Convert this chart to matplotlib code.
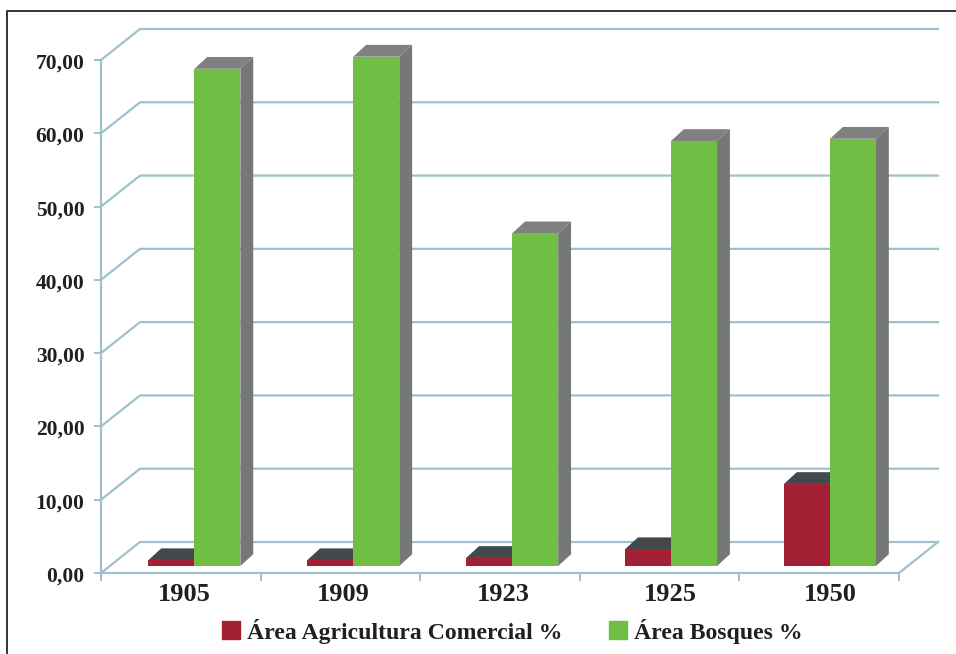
import matplotlib
matplotlib.use("Agg")
import matplotlib.pyplot as plt
from matplotlib.lines import Line2D
from matplotlib.patches import Patch

years = ["1905", "1909", "1923", "1925", "1950"]
agricultura = [0.8, 0.8, 1.1, 2.3, 11.2]
bosques = [67.85, 69.5, 45.4, 58.0, 58.3]
y_ticks = [0, 10, 20, 30, 40, 50, 60, 70]
y_labels = ["0,00", "10,00", "20,00", "30,00", "40,00", "50,00", "60,00", "70,00"]

W, H = 956, 654
GRID = "#9fc0cd"
RED = "#a32035"
GREEN = "#70bf44"
SERIF = "Liberation Serif"
TEXT = "#231f20"

plt.rcParams["font.family"] = SERIF
plt.rcParams["font.weight"] = "bold"

fig = plt.figure(figsize=(W / 100, H / 100), dpi=100)
# axes = front plane of the fake 3d box
ax = fig.add_axes([101 / W, 1 - 573 / H, 798 / W, 513 / H])
ax.set_xlim(0, len(years))
ax.set_ylim(0, 70)
ax.axis("off")

# depth of the box, in data units
dx = 39 / 159.6
dy = 31 / (513 / 70)


def proj(x, y, d):
    return x + d * dx, y + d * dy


# walls and floor
for t in y_ticks:
    x0, y0 = proj(0, t, 1)
    x1, y1 = proj(len(years), t, 1)
    ax.plot([0, x0, x1], [t, y0, y1], color=GRID, lw=1.6, clip_on=False, zorder=1)
    ax.plot([-0.04, 0], [t, t], color=GRID, lw=1.4, clip_on=False, zorder=1)
    ax.text(-0.1035, t - 0.5, y_labels[y_ticks.index(t)], ha="right", va="center",
            fontsize=15.5, color=TEXT, clip_on=False)

ax.plot([0, 0], [0, 70], color=GRID, lw=1.6, clip_on=False, zorder=1)
ax.plot([0, len(years), proj(len(years), 0, 1)[0]], [0, 0, proj(len(years), 0, 1)[1]],
        color=GRID, lw=1.6, clip_on=False, zorder=1)
for i in range(len(years) + 1):
    ax.plot([i, i], [0, -1], color=GRID, lw=1.4, clip_on=False, zorder=1)

# bars
bar_w = 46 / 159.6
near = 0.225


def draw_bar(x, v, color, top_color, side_color, z):
    x0, y0 = proj(x, 0, near)
    x1 = x0 + bar_w
    ax.bar(x0, v, bar_w, bottom=y0, align="edge", color=color, lw=0, zorder=z + 1, clip_on=False)
    sx = 0.33 * dx
    sy = 0.38 * dy
    ax.fill([x0, x1, x1 + sx, x0 + sx], [y0 + v, y0 + v, y0 + v + sy, y0 + v + sy],
            color=top_color, lw=0, zorder=z, clip_on=False)
    ax.fill([x1, x1 + sx, x1 + sx, x1], [y0, y0 + sy, y0 + v + sy, y0 + v],
            color=side_color, lw=0, zorder=z, clip_on=False)


for i, year in enumerate(years):
    mid = i * 0.9956 + 0.53
    draw_bar(mid - bar_w, agricultura[i], RED, "#43494b", "#43494b", 2)
    draw_bar(mid, bosques[i], GREEN, "#808080", "#767878", 4)
    # last two labels sit further right in the original
    shift = 0.05 if i >= 3 else 0
    ax.text(i + 0.52 + shift, -3.0, year, ha="center", va="center", fontsize=19, color=TEXT, clip_on=False)

handles = [Patch(color=RED, label="Área Agricultura Comercial %"),
           Patch(color=GREEN, label="Área Bosques %")]
fig.legend(handles=handles, ncol=2, frameon=False, loc="center", bbox_to_anchor=(512.5 / W, 1 - 631 / H),
           fontsize=17.1, handlelength=0.76, handleheight=0.76, handletextpad=0.3, columnspacing=1.95,
           labelcolor=TEXT)

# printed frame around the figure
fig.add_artist(Line2D([7 / W, 7 / W, 1], [0, 1 - 11 / H, 1 - 11 / H], color="#333333", lw=1.4))

fig.savefig("out.png", dpi=100)
